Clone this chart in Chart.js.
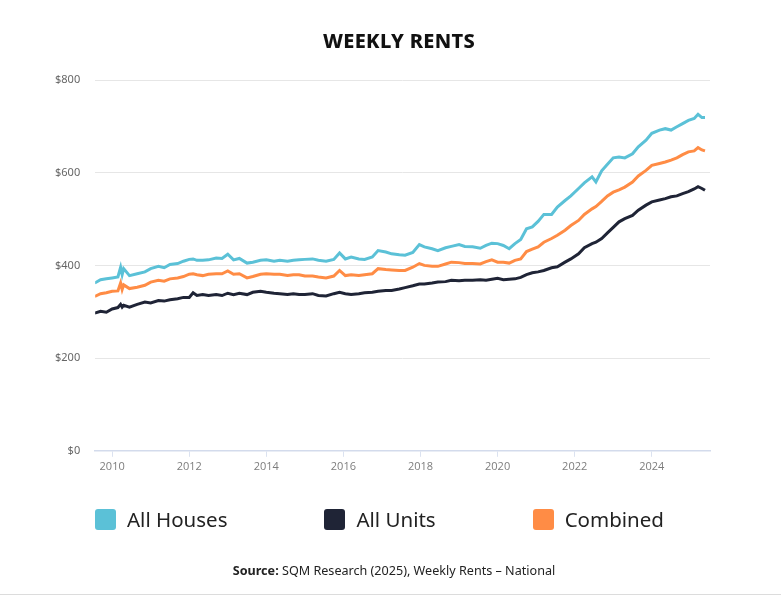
<!DOCTYPE html>
<html>
<head>
<meta charset="utf-8">
<script src="https://cdn.jsdelivr.net/npm/chart.js@4.4.1/dist/chart.umd.min.js"></script>
<style>
  html, body { margin: 0; padding: 0; background: #fff; }
  #wrap { position: relative; width: 781px; height: 597px; overflow: hidden; }
  #wrap canvas { position: absolute; left: 0; top: 0; }
  #title { position: absolute; left: 0; width: 798px; top: 27px; text-align: center;
    font: 800 20px "Noto Sans", sans-serif; color: #111; letter-spacing: 0.3px; }
  #legend { position: absolute; left: 95px; top: 505px; display: flex;
    font: 400 20.5px "Noto Sans", sans-serif; color: #222; }
  .item { display: flex; align-items: center; margin-right: 97px; }
  .box { width: 21px; height: 21px; border-radius: 3px; margin-right: 11px; }
  #source { position: absolute; left: 0; width: 788px; top: 562px; text-align: center;
    font: 400 12.6px "Noto Sans", sans-serif; color: #222; }
  #rule { position: absolute; left: 0; right: 0; top: 594px; height: 1px; background: #dcdcdc; }
</style>
</head>
<body>
<div id="wrap">
  <canvas id="chart" width="781" height="597"></canvas>
  <div id="title">WEEKLY RENTS</div>
  <div id="legend"></div>
  <div id="source"><b>Source:</b> SQM Research (2025), Weekly Rents – National</div>
  <div id="rule"></div>
</div>
<script>
// dates as decimal years
const dates = [
  2009.55, 2009.7, 2009.85,
  2010.0, 2010.15, 2010.22, 2010.26, 2010.3, 2010.45, 2010.65, 2010.85,
  2011.0, 2011.2, 2011.35, 2011.5, 2011.7, 2011.85,
  2012.0, 2012.1, 2012.2, 2012.35, 2012.5, 2012.7, 2012.85,
  2013.0, 2013.15, 2013.3, 2013.5, 2013.65, 2013.85,
  2014.0, 2014.2, 2014.35, 2014.55, 2014.7, 2014.85,
  2015.0, 2015.2, 2015.35, 2015.55, 2015.75, 2015.9,
  2016.05, 2016.2, 2016.4, 2016.55, 2016.75, 2016.9,
  2017.1, 2017.25, 2017.45, 2017.6, 2017.8, 2017.97,
  2018.1, 2018.3, 2018.45, 2018.65, 2018.8,
  2019.0, 2019.15, 2019.35, 2019.55, 2019.7, 2019.85,
  2020.0, 2020.15, 2020.3, 2020.45, 2020.6, 2020.75, 2020.9,
  2021.05, 2021.2, 2021.4, 2021.55, 2021.75, 2021.9,
  2022.1, 2022.25, 2022.45, 2022.55, 2022.7, 2022.85,
  2023.0, 2023.15, 2023.3, 2023.5, 2023.65, 2023.85,
  2024.0, 2024.2, 2024.35, 2024.5, 2024.65, 2024.8, 2024.95,
  2025.1, 2025.2, 2025.3, 2025.38
];

const allHouses = [
  362, 369, 371,
  373, 375, 396, 380, 393, 378, 382, 386,
  393, 398, 395, 402, 404, 409,
  413, 414, 411, 411, 412, 416, 415,
  424, 412, 415, 405, 407, 411,
  412, 409, 411, 409, 411, 412,
  413, 414, 411, 409, 413, 427,
  414, 418, 414, 413, 418, 432,
  429, 425, 423, 422, 428, 445,
  440, 436, 432, 438, 441,
  445, 441, 440, 437, 443, 448,
  447, 443, 436, 447, 456, 479, 483,
  495, 510, 510, 526, 540, 550,
  566, 578, 591, 580, 604, 618,
  632, 634, 632, 641, 656, 670,
  685, 692, 695, 692, 699, 706, 713,
  717, 726, 719, 719
];

const allUnits = [
  297, 301, 299,
  306, 309, 316, 310, 314, 310, 316, 321,
  319, 324, 323, 326, 328, 331,
  331, 341, 335, 337, 335, 337, 335,
  340, 337, 340, 337, 342, 344,
  342, 340, 339, 337, 339, 337,
  337, 339, 335, 334, 339, 342,
  339, 337, 339, 341, 342, 344,
  346, 346, 349, 352, 356, 360,
  360, 362, 364, 365, 368,
  367, 368, 368, 369, 368, 370,
  372, 369, 370, 371, 374, 380, 384,
  386, 389, 395, 397, 407, 414,
  425, 438, 447, 450, 458, 470,
  482, 494, 501, 508, 519, 530,
  537, 541, 544, 548, 550, 555, 559,
  565, 570, 566, 562
];

const combined = [
  333, 339, 341,
  344, 345, 362, 348, 358, 350, 353, 357,
  364, 368, 366, 371, 373, 376,
  381, 382, 380, 378, 381, 382, 382,
  388, 381, 382, 373, 376, 381,
  382, 381, 381, 378, 380, 380,
  377, 377, 375, 373, 377, 389,
  378, 380, 378, 380, 382, 393,
  391, 390, 389, 389, 396, 404,
  400, 398, 398, 403, 407,
  406, 404, 404, 403, 408, 412,
  407, 407, 405, 411, 414, 430, 435,
  440, 450, 458, 465, 476, 486,
  497, 510, 522, 527, 538, 550,
  558, 563, 569, 580, 593, 605,
  616, 620, 623, 627, 632, 639, 645,
  647, 654, 649, 647
];

const yearTicks = [2010, 2012, 2014, 2016, 2018, 2020, 2022, 2024];
const rentTicks = [0, 200, 400, 600, 800];

const seriesNames = ['All Houses', 'All Units', 'Combined'];
const seriesColors = ['#5bc1d7', '#1f2436', '#ff8c45'];

function toPoints(values) {
  return values.map((v, i) => ({ x: dates[i], y: v }));
}

const chart = new Chart(document.getElementById('chart'), {
  type: 'line',
  data: {
    datasets: [allHouses, allUnits, combined].map((vals, i) => ({
      label: seriesNames[i],
      data: toPoints(vals),
      borderColor: seriesColors[i],
      backgroundColor: seriesColors[i],
      borderWidth: 3,
      pointRadius: 0,
      tension: 0,
      fill: false
    }))
  },
  options: {
    responsive: false,
    animation: false,
    layout: { padding: { top: 80, left: 40, right: 71, bottom: 121 } },
    plugins: {
      legend: { display: false },
      tooltip: { enabled: false },
      title: { display: false }
    },
    scales: {
      x: {
        type: 'linear',
        min: 2009.56,
        max: 2025.51,
        afterBuildTicks: (scale) => {
          scale.ticks = yearTicks.map(v => ({ value: v }));
        },
        grid: {
          drawOnChartArea: false,
          drawTicks: true,
          tickLength: 6,
          color: '#dbe2f0'
        },
        border: { display: true, color: '#d3dbec', width: 1.5 },
        ticks: {
          padding: 3,
          color: '#7d7d7d',
          font: { family: 'Open Sans', size: 11 },
          callback: (v) => String(v)
        }
      },
      y: {
        min: 0,
        max: 800,
        afterBuildTicks: (scale) => {
          scale.ticks = rentTicks.map(v => ({ value: v }));
        },
        grid: { color: '#e6e6e6', drawTicks: false, lineWidth: 1 },
        border: { display: false },
        ticks: {
          padding: 15,
          color: '#666',
          font: { family: 'Noto Sans', size: 11 },
          callback: (v) => '$' + v
        }
      }
    }
  }
});

// legend built from the chart's datasets
const legendEl = document.getElementById('legend');
chart.data.datasets.forEach(ds => {
  const item = document.createElement('div');
  item.className = 'item';
  item.innerHTML = '<span class="box" style="background:' + ds.borderColor + '"></span>' + ds.label;
  legendEl.appendChild(item);
});
</script>
</body>
</html>
